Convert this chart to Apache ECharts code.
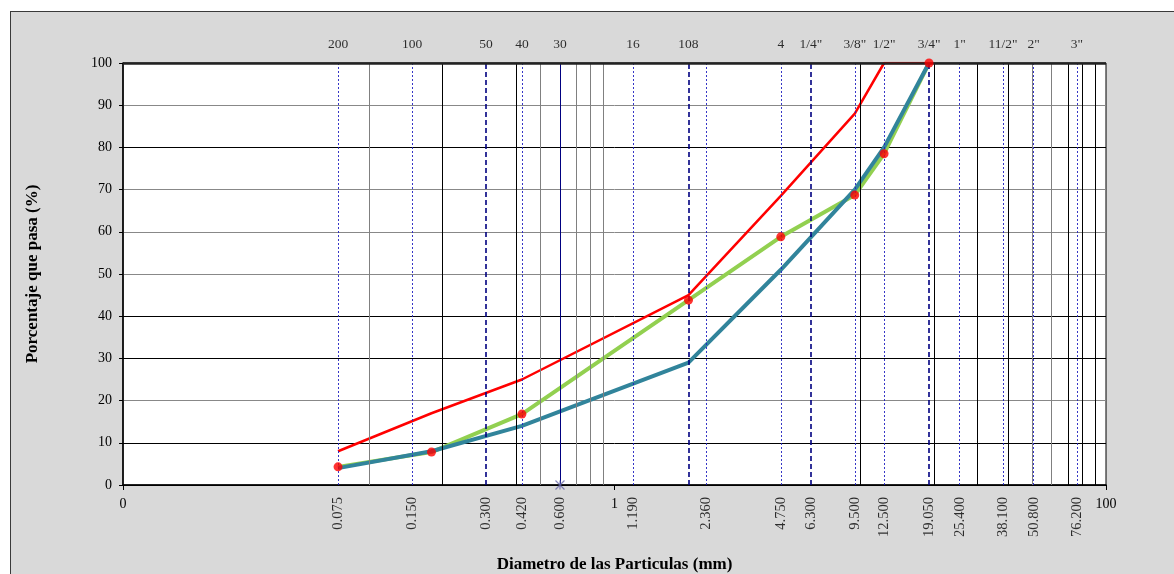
<!DOCTYPE html>
<html>
<head>
<meta charset="utf-8">
<script src="https://cdn.jsdelivr.net/npm/echarts@6/dist/echarts.min.js"></script>
<style>
  html, body { margin: 0; padding: 0; background: #ffffff; }
  #wrap { position: relative; width: 1174px; height: 574px; overflow: hidden; }
  #bg { position: absolute; left: 10px; top: 11px; width: 1300px; height: 700px;
        background: #d9d9d9; border-left: 1.5px solid #3a3a3a; border-top: 1.5px solid #3a3a3a; }
  #chart { position: absolute; left: 0; top: 0; width: 1174px; height: 574px; }
</style>
</head>
<body>
<div id="wrap"><div id="bg"></div><div id="chart"></div></div>
<script>
// ---------- DATA ----------
const sieveSizes = [0.075, 0.150, 0.300, 0.420, 0.600, 1.190, 2.000, 2.360, 4.750, 6.300, 9.500, 12.500, 19.050, 25.400, 38.100, 50.800, 76.200];
const sieveTopNames = ['200', '100', '50', '40', '30', '16', '108', '', '4', '1/4"', '3/8"', '1/2"', '3/4"', '1"', '11/2"', '2"', '3"'];
const sieveBottomNames = ['0.075', '0.150', '0.300', '0.420', '0.600', '1.190', '', '2.360', '4.750', '6.300', '9.500', '12.500', '19.050', '25.400', '38.100', '50.800', '76.200'];
const logGridValues = [0.1, 0.2, 0.4, 0.5, 0.7, 0.8, 0.9, 10, 20, 30, 40, 50, 60, 70, 80, 90];

const gradationSizes = [0.075, 0.18, 0.42, 2.0, 4.75, 9.5, 12.5, 19.05];
const upperLimit     = [8, 17, 25, 45, 68.5, 88, 100, 100];
const lowerLimit     = [4, 8, 14, 29, 51, 70, 80, 100];
const sampleGradation = [4.3, 7.8, 16.8, 43.8, 58.8, 68.7, 78.5, 100];
const asteriskPoint = [[0.6, 0]];

const xMin = 0.01, xMax = 100;

// ---------- STYLES ----------
const serif = '"Liberation Serif", "Times New Roman", serif';
const dashedSet = { '0.3': 1, '2': 1, '6.3': 1, '19.05': 1 };
const solidSet = { '0.6': 1 };
function sieveLineStyle(v) {
  const k = String(v);
  if (dashedSet[k]) return { type: [5, 3], color: '#000080', width: 1.6 };
  if (solidSet[k]) return { type: 'solid', color: '#000080', width: 1 };
  return { type: [2, 2], color: '#2020c0', width: 0.9 };
}
const darkGrid = { '0.2': 1, '0.4': 1, '10': 1, '20': 1, '30': 1, '40': 1, '70': 1, '80': 1, '90': 1 };
function gridLineStyle(v) {
  return { type: 'solid', color: darkGrid[String(v)] ? '#000000' : '#808080', width: 1 };
}
const pair = (xs, ys) => xs.map((x, i) => [x, ys[i]]);

const chart = echarts.init(document.getElementById('chart'), null, { renderer: 'canvas' });

const vLines = [];
logGridValues.forEach(v => vLines.push({ xAxis: v, lineStyle: gridLineStyle(v) }));
sieveSizes.forEach(v => vLines.push({ xAxis: v, lineStyle: sieveLineStyle(v) }));
vLines.push({ yAxis: 100, lineStyle: { type: 'solid', color: '#222', width: 2.5 } });

const option = {
  animation: false,
  backgroundColor: 'transparent',
  grid: { left: 123, right: 68, top: 63, bottom: 89, containLabel: false, outerBoundsMode: 'none',
          show: true, backgroundColor: '#ffffff', borderColor: '#000', borderWidth: 1 },
  xAxis: {
    type: 'log', logBase: 10, min: xMin, max: xMax, interval: 2,
    name: 'Diametro de las Particulas (mm)', nameLocation: 'middle', nameGap: 71,
    nameTextStyle: { fontFamily: serif, fontWeight: 'bold', fontSize: 17, color: '#000' },
    axisLine: { show: true, lineStyle: { color: '#000', width: 1.5 } },
    axisTick: { show: true, length: 5, lineStyle: { color: '#000' } },
    splitLine: { show: false },
    minorTick: { show: false },
    axisLabel: {
      fontFamily: serif, fontSize: 14, color: '#000', margin: 12,
      formatter: v => {
        const e = Math.round(Math.log10(v));
        if (e === -2) return '0';
        if (e === 0) return '1';
        if (e === 2) return '100';
        return '';
      }
    }
  },
  yAxis: {
    type: 'value', min: 0, max: 100, interval: 10,
    name: 'Porcentaje que pasa (%)', nameLocation: 'middle', nameGap: 82,
    nameTextStyle: { fontFamily: serif, fontWeight: 'bold', fontSize: 17, color: '#000' },
    axisLine: { show: true, lineStyle: { color: '#000', width: 1.5 } },
    axisTick: { show: true, length: 4, lineStyle: { color: '#000' } },
    axisLabel: { fontFamily: serif, fontSize: 14, color: '#000', margin: 11, formatter: v => String(v) },
    splitLine: { show: true, lineStyle: { width: 1, color: ['#000', '#000', '#888', '#000', '#000', '#888', '#888', '#888', '#000', '#888', '#000'] } }
  },
  series: [
    {
      name: 'guides', type: 'line', data: [], z: 1, silent: true,
      markLine: { symbol: 'none', silent: true, precision: 4, label: { show: false }, animation: false, data: vLines }
    },
    {
      name: 'topLabels', type: 'scatter', z: 5, silent: true, clip: false,
      symbolSize: 0.01, itemStyle: { color: 'transparent' },
      data: sieveSizes.map((s, i) => ({ value: [s, 100], name: sieveTopNames[i] })),
      label: { show: true, position: 'top', distance: 12, formatter: p => p.name,
               fontFamily: serif, fontSize: 13.5, color: '#000' }
    },
    {
      name: 'bottomLabels', type: 'scatter', z: 5, silent: true, clip: false,
      symbolSize: 0.01, itemStyle: { color: 'transparent' },
      data: sieveSizes.map((s, i) => ({ value: [s, 0], name: sieveBottomNames[i] })),
      label: { show: true, position: 'bottom', distance: 12, rotate: 90, align: 'right', verticalAlign: 'middle',
               formatter: p => p.name, fontFamily: serif, fontSize: 14.5, color: '#000' }
    },
    {
      name: 'Límite superior', type: 'line', z: 3, data: pair(gradationSizes, upperLimit),
      showSymbol: false, symbol: 'none', lineStyle: { color: '#ff0000', width: 2.5 }
    },
    {
      name: 'Muestra', type: 'line', z: 3, data: pair(gradationSizes, sampleGradation),
      showSymbol: false, symbol: 'none', lineStyle: { color: '#92d050', width: 4 }
    },
    {
      name: 'Límite inferior', type: 'line', z: 4, data: pair(gradationSizes, lowerLimit),
      showSymbol: false, symbol: 'none', lineStyle: { color: '#31849b', width: 4 }
    },
    {
      name: 'Puntos', type: 'scatter', z: 6, data: pair(gradationSizes, sampleGradation),
      symbol: 'circle', symbolSize: 9, itemStyle: { color: '#ff0000' }, clip: false
    },
    {
      name: 'asterisco', type: 'scatter', z: 6, data: asteriskPoint, clip: false,
      symbol: 'path://M0,0L10,10M10,0L0,10M5,0L5,10', symbolSize: 9,
      itemStyle: { color: 'transparent', borderColor: '#6a6aaa', borderWidth: 1.2 }
    }
  ]
};
chart.setOption(option);
</script>
</body>
</html>
